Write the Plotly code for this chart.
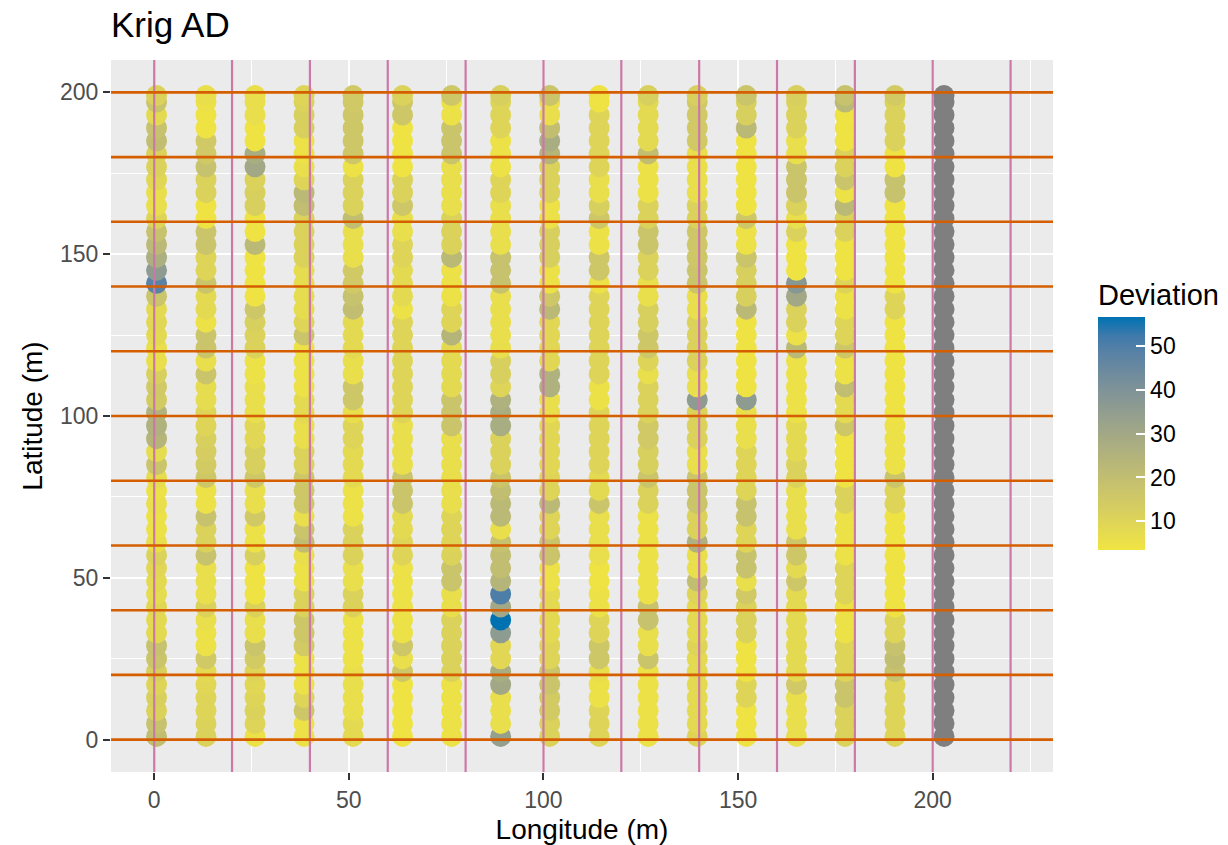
import plotly.graph_objects as go

# Transect sample positions (northing, m) shared by every pass
y_pos = [1, 5, 9, 13, 17, 21, 25, 29, 33, 37, 41, 45, 49, 53, 57, 61, 65, 69, 73, 77,
         81, 85, 89, 93, 97, 101, 105, 109, 113, 117, 121, 125, 129, 133, 137, 141,
         145, 149, 153, 157, 161, 165, 169, 173, 177, 181, 185, 189, 193, 197, 199]

# Easting of each pass (m)
col_x = [0.6, 13.3, 25.9, 38.5, 51.1, 63.8, 76.4, 89.0, 101.6, 114.3, 126.9,
         139.5, 152.1, 165.0, 177.5, 190.3, 202.9]

# Kriging absolute deviation along each pass, south to north (None = not available)
dev_c01 = [20, 18, 11, 12, 10, 12, 17, 18, 8, 8, 9, 7, 8, 9, 11, 6, 5, 5, 6, 5,
           7, 17, 7, 24, 26, 25, 14, 15, 12, 6, 6, 8, 9, 8, 17, 48, 36, 27, 22, 18,
           10, 6, 6, 9, 11, 11, 20, 18, 8, 17, 11]
dev_c02 = [11, 11, 10, 10, 9, 8, 15, 5, 5, 6, 11, 6, 6, 6, 18, 11, 11, 18, 5, 5,
           16, 14, 13, 12, 10, 10, 7, 7, 17, 6, 17, 17, 5, 8, 8, 17, 10, 10, 17, 17,
           4, 4, 11, 11, 18, 15, 15, 4, 4, 5, 6]
dev_c03 = [5, 10, 11, 10, 9, 10, 14, 17, 6, 6, 11, 4, 4, 4, 12, 5, 5, 15, 6, 6,
           16, 12, 12, 9, 9, 6, 6, 6, 5, 5, 11, 11, 12, 16, 4, 4, 4, 4, 22, 4,
           4, 12, 12, 11, 30, 28, 4, 4, 6, 6, 6]
dev_c04 = [5, 5, 16, 10, 5, 5, 5, 14, 16, 16, 11, 11, 5, 5, 6, 20, 17, 6, 16, 16,
           16, 11, 11, 6, 6, 8, 8, 5, 5, 5, 5, 17, 10, 7, 7, 7, 7, 11, 11, 11,
           11, 20, 22, 10, 6, 5, 5, 12, 12, 11, 10]
dev_c05 = [8, 8, 6, 6, 6, 6, 5, 5, 5, 5, 11, 11, 6, 6, 11, 11, 11, 5, 5, 5,
           8, 8, 8, 10, 10, 6, 16, 16, 6, 6, 8, 8, 8, 20, 18, 15, 15, 6, 6, 6,
           20, 11, 11, 11, 5, 16, 16, 16, 16, 15, 15]
dev_c06 = [4, 4, 4, 4, 4, 16, 6, 16, 5, 5, 5, 5, 5, 5, 10, 10, 8, 8, 17, 17,
           17, 6, 6, 6, 6, 10, 10, 10, 10, 10, 10, 10, 10, 5, 8, 8, 8, 10, 10, 6,
           6, 16, 11, 11, 4, 4, 4, 4, 16, 16, 11]
dev_c07 = [5, 5, 5, 5, 5, 11, 11, 11, 11, 11, 6, 6, 17, 17, 11, 10, 10, 10, 6, 6,
           6, 6, 6, 6, 17, 17, 17, 8, 8, 8, 8, 24, 10, 10, 5, 5, 5, 22, 11, 11,
           11, 6, 6, 6, 6, 17, 17, 17, 5, 5, 16]
dev_c08 = [34, 6, 6, 6, 30, 28, 9, 9, 36, 57, 30, 50, 24, 20, 20, 18, 6, 22, 22, 20,
           17, 11, 11, 11, 28, 28, 26, 10, 12, 12, 6, 6, 6, 6, 6, 18, 18, 18, 6, 6,
           6, 6, 10, 10, 5, 5, 5, 10, 10, 10, 12]
dev_c09 = [11, 11, 14, 14, 17, 17, 10, 10, 8, 8, 8, 8, 5, 5, 17, 17, 10, 10, 22, 10,
           10, 9, 9, 9, 9, 6, 6, 26, 26, 9, 9, 9, 9, 22, 16, 5, 5, 12, 12, 12,
           5, 5, 11, 11, 11, 24, 28, 20, 6, 6, 17]
dev_c10 = [10, 10, 10, 5, 5, 6, 16, 16, 10, 10, 5, 5, 4, 4, 6, 6, 6, 6, 17, 8,
           8, 10, 10, 10, 10, 10, 5, 5, 10, 10, 10, 10, 10, 10, 10, 5, 16, 16, 5, 5,
           16, 12, 6, 6, 10, 10, 10, 10, 10, 4, 4]
dev_c11 = [5, 5, 5, 5, 5, 5, 17, 6, 6, 18, 18, 5, 5, 5, 5, 5, 5, 5, 11, 11,
           17, 12, 12, 15, 15, 11, 11, 11, 6, 10, 16, 16, 12, 12, 6, 6, 11, 11, 17, 17,
           11, 11, 5, 5, 5, 20, 8, 8, 8, 8, 12]
dev_c12 = [10, 8, 8, 8, 8, 8, 8, 10, 8, 8, 8, 10, 20, 6, 6, 26, 11, 11, 17, 17,
           17, 6, 6, 11, 11, 11, 36, 6, 6, 11, 11, 11, 11, 6, 6, 17, 17, 16, 16, 16,
           11, 11, 6, 6, 6, 6, 15, 15, 15, 15, 12]
dev_c13 = [4, 4, 4, 10, 10, 4, 4, 4, 11, 11, 11, 15, 6, 18, 18, 10, 10, 18, 18, 10,
           10, 10, 10, 6, 6, 6, 36, 4, 4, 4, 4, 4, 4, 22, 12, 12, 12, 17, 5, 5,
           16, 4, 4, 4, 4, 4, 4, 22, 12, 12, 17]
dev_c14 = [6, 6, 6, 6, 15, 8, 8, 8, 8, 8, 8, 8, 16, 8, 16, 16, 6, 6, 6, 6,
           11, 11, 8, 8, 8, 5, 5, 5, 5, 5, 22, 5, 11, 11, 30, 38, 4, 4, 4, 11,
           6, 11, 17, 17, 17, 6, 6, 11, 11, 11, 12]
dev_c15 = [11, 11, 11, 17, 17, 10, 10, 10, 5, 5, 5, 10, 10, 10, 5, 5, 5, 5, 11, 11,
           4, 4, 4, 4, 16, 8, 8, 20, 5, 5, 16, 10, 10, 5, 5, 10, 4, 4, 4, 11,
           11, 22, 5, 17, 11, 11, 4, 4, 4, 22, 18]
dev_c16 = [10, 10, 10, 10, 10, 18, 20, 18, 10, 10, 4, 4, 4, 4, 4, 4, 4, 4, 10, 10,
           17, 5, 5, 5, 5, 4, 4, 4, 4, 4, 4, 4, 4, 10, 10, 4, 4, 4, 4, 4,
           4, 4, 18, 18, 4, 4, 11, 11, 11, 11, 14]
dev_c17 = [None, None, None, None, None, None, None, None, None, None,
           None, None, None, None, None, None, None, None, None, None,
           None, None, None, None, None, None, None, None, None, None,
           None, None, None, None, None, None, None, None, None, None,
           None, None, None, None, None, None, None, None, None, None, None]

dev_cols = [dev_c01, dev_c02, dev_c03, dev_c04, dev_c05, dev_c06, dev_c07, dev_c08,
            dev_c09, dev_c10, dev_c11, dev_c12, dev_c13, dev_c14, dev_c15, dev_c16,
            dev_c17]

# Reference grid lines (m)
grid_lon = [0, 20, 40, 60, 80, 100, 120, 140, 160, 180, 200, 220]
grid_lat = [0, 20, 40, 60, 80, 100, 120, 140, 160, 180, 200]

colorbar_ticks = [10, 20, 30, 40, 50]
dev_min, dev_max = 3.5, 56.5

LOW, HIGH = "#F0E442", "#0072B2"
NA_COLOUR = "#7F7F7F"


# ---- gradient built in CIELAB, like a sequential ggplot scale ----
def _hex_to_rgb(h):
    h = h.lstrip("#")
    return [int(h[i:i + 2], 16) / 255 for i in (0, 2, 4)]


def _lin(c):
    return c / 12.92 if c <= 0.04045 else ((c + 0.055) / 1.055) ** 2.4


def _gam(c):
    c = max(0.0, min(1.0, c))
    return 12.92 * c if c <= 0.0031308 else 1.055 * c ** (1 / 2.4) - 0.055


WX, WY, WZ = 0.95047, 1.0, 1.08883


def _f(t):
    return t ** (1 / 3) if t > 0.008856 else 7.787 * t + 16 / 116


def _finv(t):
    return t ** 3 if t ** 3 > 0.008856 else (t - 16 / 116) / 7.787


def hex_to_lab(h):
    r, g, b = [_lin(c) for c in _hex_to_rgb(h)]
    x = (0.4124 * r + 0.3576 * g + 0.1805 * b) / WX
    y = (0.2126 * r + 0.7152 * g + 0.0722 * b) / WY
    z = (0.0193 * r + 0.1192 * g + 0.9505 * b) / WZ
    fx, fy, fz = _f(x), _f(y), _f(z)
    return 116 * fy - 16, 500 * (fx - fy), 200 * (fy - fz)


def lab_to_rgb_str(L, a, b):
    fy = (L + 16) / 116
    fx = fy + a / 500
    fz = fy - b / 200
    x, y, z = _finv(fx) * WX, _finv(fy) * WY, _finv(fz) * WZ
    r = 3.2406 * x - 1.5372 * y - 0.4986 * z
    g = -0.9689 * x + 1.8758 * y + 0.0415 * z
    bb = 0.0557 * x - 0.2040 * y + 1.0570 * z
    return "rgb({},{},{})".format(*[round(_gam(c) * 255) for c in (r, g, bb)])


lab_lo, lab_hi = hex_to_lab(LOW), hex_to_lab(HIGH)
n_stops = 12
colorscale = []
for i in range(n_stops + 1):
    t = i / n_stops
    lab = [lo + (hi - lo) * t for lo, hi in zip(lab_lo, lab_hi)]
    colorscale.append([t, lab_to_rgb_str(*lab)])

# ---- assemble the points pass by pass (south to north, later on top) ----
px, py, pd = [], [], []
nx, ny = [], []
for cx, devs in zip(col_x, dev_cols):
    for yy, d in zip(y_pos, devs):
        if d is None:
            nx.append(cx)
            ny.append(yy)
        else:
            px.append(cx)
            py.append(yy)
            pd.append(d)

FONT = "Liberation Sans, Arial, sans-serif"
MARKER_PX = 21

# colour bar geometry (pixels in the 1228 x 845 page)
PLOT_L, PLOT_R, PLOT_T, PLOT_B = 111, 1053, 60, 772
BAR_LEFT_PX, BAR_W_PX = 1098, 47
BAR_TOP_PX, BAR_BOT_PX = 316, 548
TITLE_PX = 38


def paper_x(pxl):
    return (pxl - PLOT_L) / (PLOT_R - PLOT_L)


def paper_y(pxl):
    return (PLOT_B - pxl) / (PLOT_B - PLOT_T)


bar_len = BAR_BOT_PX - BAR_TOP_PX + TITLE_PX
bar_mid = BAR_BOT_PX - bar_len / 2 + 2

fig = go.Figure()

fig.add_trace(go.Scatter(
    x=nx, y=ny, mode="markers",
    marker=dict(size=MARKER_PX, color=NA_COLOUR, line=dict(width=0)),
    showlegend=False, hoverinfo="skip",
))

fig.add_trace(go.Scatter(
    x=px, y=py, mode="markers",
    marker=dict(
        size=MARKER_PX, color=pd, colorscale=colorscale,
        cmin=dev_min, cmax=dev_max, line=dict(width=0),
        colorbar=dict(
            title=dict(text="Deviation", side="top",
                       font=dict(size=29, color="black", family=FONT)),
            x=paper_x(BAR_LEFT_PX), xanchor="left", xpad=0, ypad=0,
            y=paper_y(bar_mid), yanchor="middle",
            thickness=BAR_W_PX, len=bar_len, lenmode="pixels",
            outlinewidth=0,
            tickvals=colorbar_ticks,
            ticks="inside", ticklen=9, tickwidth=1.5, tickcolor="white",
            tickprefix="\u2009\u2009",
            tickfont=dict(size=23, color="black", family=FONT),
        ),
    ),
    showlegend=False,
))

# vertical reference lines (drawn over the points), then horizontal ones
for gx in grid_lon:
    fig.add_shape(type="line", xref="x", yref="paper", x0=gx, x1=gx, y0=0, y1=1,
                  line=dict(color="#CC79A7", width=2.2), layer="above")
for gy in grid_lat:
    fig.add_shape(type="line", xref="paper", yref="y", x0=0, x1=1, y0=gy, y1=gy,
                  line=dict(color="#D55E00", width=2.6), layer="above")

axis_common = dict(
    showgrid=True, gridcolor="white", gridwidth=2,
    zeroline=False, showline=False,
    ticks="outside", ticklen=7, tickwidth=2, tickcolor="#333333",
    tickfont=dict(size=23, color="#4D4D4D", family=FONT),
    minor=dict(dtick=25, showgrid=True, gridcolor="white", gridwidth=1, ticks=""),
)

fig.update_xaxes(
    range=[-11.1, 230.9], tick0=0, dtick=50,
    title=dict(text="Longitude (m)", font=dict(size=28, color="black", family=FONT),
               standoff=13),
    **axis_common,
)
fig.update_yaxes(
    range=[-10, 210], tick0=0, dtick=50,
    title=dict(text="Latitude (m)", font=dict(size=28, color="black", family=FONT),
               standoff=9),
    **axis_common,
)

fig.update_layout(
    width=1228, height=845,
    margin=dict(l=PLOT_L, r=1228 - PLOT_R, t=PLOT_T, b=845 - PLOT_B, autoexpand=False),
    paper_bgcolor="white", plot_bgcolor="#EBEBEB",
    font=dict(family=FONT),
    title=dict(text="Krig AD", x=0, xref="paper", xanchor="left",
               y=1 - 25 / 845, yref="container", yanchor="middle",
               font=dict(size=35, color="black", family=FONT)),
)

fig.write_html("out.html")
